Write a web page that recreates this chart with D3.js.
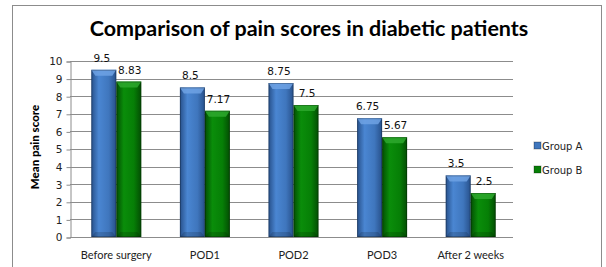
<!DOCTYPE html>
<html>
<head>
<meta charset="utf-8">
<script src="https://cdn.jsdelivr.net/npm/d3@7"></script>
<style>
  body { margin: 0; background: #fff; }
  svg { display: block; }
</style>
</head>
<body>
<div id="chart"></div>
<script>
// data
var categories = ["Before surgery", "POD1", "POD2", "POD3", "After 2 weeks"];
var groupA = [9.5, 8.5, 8.75, 6.75, 3.5];
var groupB = [8.83, 7.17, 7.5, 5.67, 2.5];
var seriesNames = ["Group A", "Group B"];
var yTicks = [0, 1, 2, 3, 4, 5, 6, 7, 8, 9, 10];

var W = 606, H = 267;
var svg = d3.select("#chart").append("svg")
  .attr("width", W).attr("height", H);

var defs = svg.append("defs");
function grad(id, edge, mid, light) {
  var g = defs.append("linearGradient").attr("id", id)
    .attr("x1", "0%").attr("x2", "100%").attr("y1", "0%").attr("y2", "0%");
  g.append("stop").attr("offset", "0%").attr("stop-color", edge);
  g.append("stop").attr("offset", "30%").attr("stop-color", light);
  g.append("stop").attr("offset", "70%").attr("stop-color", mid);
  g.append("stop").attr("offset", "100%").attr("stop-color", edge);
}
grad("gA", "#27508a", "#3f76bd", "#4a86d2");
grad("gB", "#034d03", "#067f06", "#0a8d0a");
var fills = ["url(#gA)", "url(#gB)"];
var tops = ["#6fa2e4", "#2ea82e"];
var flat = ["#3f76bd", "#067f06"];

// outer frame
svg.append("rect").attr("x", 12.5).attr("y", 5.5).attr("width", 589).attr("height", 270)
  .attr("fill", "none").attr("stroke", "#8c8c8c");

// title
svg.append("text").attr("x", 309).attr("y", 36)
  .attr("text-anchor", "middle")
  .style("font-family", "Lato, 'Open Sans', sans-serif")
  .style("font-weight", "bold").style("font-size", "21.5px")
  .attr("fill", "#000")
  .text("Comparison of pain scores in diabetic patients");

var x = d3.scaleBand().domain(categories).range([70, 513]);
var xs = d3.scaleBand().domain(seriesNames).range([0, 50]);
var y = d3.scaleLinear().domain([0, 10]).range([237, 61]);

// gridlines
svg.append("g").selectAll("line").data(yTicks.slice(1)).enter().append("line")
  .attr("x1", 70).attr("x2", 513)
  .attr("y1", function(d) { return Math.round(y(d)) + 0.5; })
  .attr("y2", function(d) { return Math.round(y(d)) + 0.5; })
  .attr("stroke", "#8c8c8c");

// y axis
var yAxis = svg.append("g").attr("transform", "translate(70.5,0.5)")
  .call(d3.axisLeft(y).tickValues(yTicks).tickSize(4).tickPadding(4));
yAxis.select(".domain").attr("stroke", "#8c8c8c");
yAxis.selectAll(".tick line").attr("stroke", "#8c8c8c");
yAxis.selectAll("text")
  .style("font-family", "'DejaVu Sans', sans-serif").style("font-size", "10.5px")
  .attr("fill", "#222");

// x axis line
svg.append("line").attr("x1", 70).attr("x2", 513)
  .attr("y1", 237.5).attr("y2", 237.5).attr("stroke", "#8c8c8c");

svg.append("g").selectAll("text").data(categories).enter().append("text")
  .attr("x", function(d) { return x(d) + x.bandwidth() / 2 + 2; })
  .attr("y", 259)
  .attr("text-anchor", "middle")
  .style("font-family", "Lato, sans-serif").style("font-size", "11px")
  .attr("fill", "#222")
  .text(function(d) { return d; });

// y title
svg.append("text")
  .attr("transform", "translate(39,147) rotate(-90)")
  .attr("text-anchor", "middle")
  .style("font-family", "Lato, sans-serif").style("font-weight", "900").style("font-size", "11.5px")
  .text("Mean pain score");

// bars
var series = [groupA, groupB];
series.forEach(function(vals, s) {
  var g = svg.append("g");
  categories.forEach(function(c, i) {
    var bx = x(c) + (x.bandwidth() - 50) / 2 + 2 + xs(seriesNames[s]);
    var bw = xs.bandwidth();
    var by = y(vals[i]);
    var bh = y(0) - by;
    g.append("rect").attr("x", bx).attr("y", by).attr("width", bw).attr("height", bh)
      .attr("fill", fills[s]);
    // top bevel
    g.append("path")
      .attr("d", "M" + bx + "," + by + "L" + (bx + bw) + "," + by +
        "L" + (bx + bw - 4) + "," + (by + 6) + "L" + (bx + 4) + "," + (by + 6) + "Z")
      .attr("fill", tops[s]).attr("opacity", 0.85);
    // bottom shade
    g.append("path")
      .attr("d", "M" + bx + "," + y(0) + "L" + (bx + bw) + "," + y(0) +
        "L" + (bx + bw - 4) + "," + (y(0) - 5) + "L" + (bx + 4) + "," + (y(0) - 5) + "Z")
      .attr("fill", "#000").attr("opacity", 0.15);
    g.append("rect").attr("x", bx + 0.5).attr("y", by + 0.5).attr("width", bw - 1).attr("height", bh - 1)
      .attr("fill", "none").attr("stroke", "#000").attr("stroke-opacity", 0.25);
    g.append("text")
      .attr("x", bx + bw / 2 + (s === 0 ? -2 : 1))
      .attr("y", by - 8)
      .attr("text-anchor", "middle")
      .style("font-family", "'DejaVu Sans', sans-serif").style("font-size", "10.5px")
      .attr("fill", "#111")
      .text(vals[i]);
  });
});

// legend
var leg = svg.append("g").attr("transform", "translate(534,142)");
seriesNames.forEach(function(n, i) {
  var r = leg.append("g").attr("transform", "translate(0," + (i * 24) + ")");
  r.append("rect").attr("x", 0).attr("y", 0).attr("width", 7).attr("height", 7)
    .attr("fill", flat[i]).attr("stroke", "#000").attr("stroke-opacity", 0.3);
  r.append("text").attr("x", 8).attr("y", 7.5)
    .style("font-family", "'DejaVu Sans', sans-serif").style("font-size", "10px")
    .attr("fill", "#222").text(n);
});
</script>
</body>
</html>
